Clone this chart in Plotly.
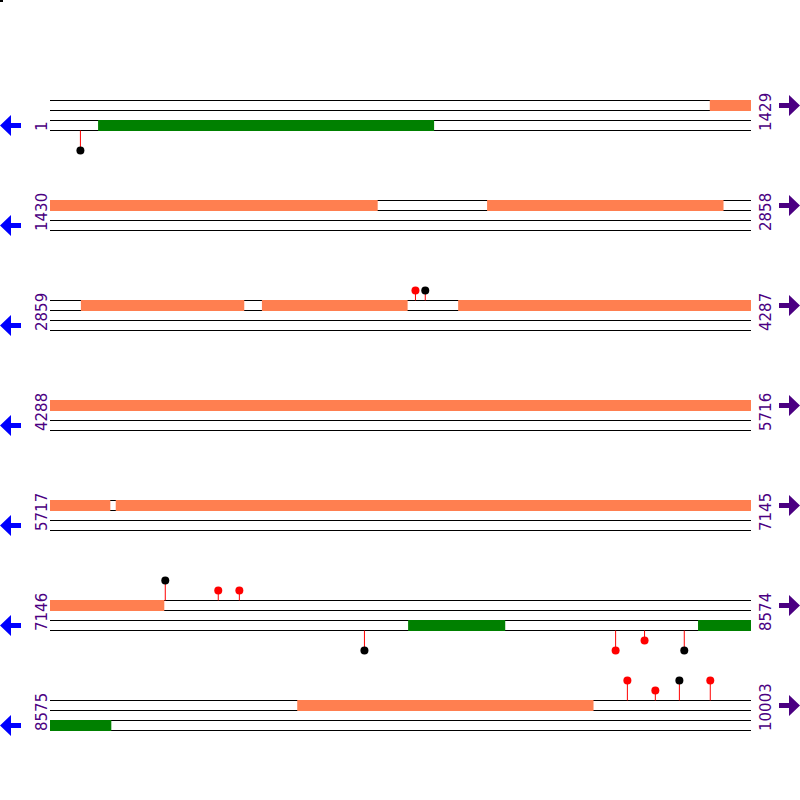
import plotly.graph_objects as go

# ---------------- data ----------------
ROW_STARTS = [1, 1430, 2859, 4288, 5717, 7146, 8575]
ROW_ENDS = [1429, 2858, 4287, 5716, 7145, 8574, 10003]

# forward-strand features (orange, upper track)
FWD_STARTS = [1346, 2321, 2922, 3291, 3691, 5851, 9079]
FWD_ENDS = [2097, 2802, 3254, 3587, 5839, 7378, 9682]

# reverse-strand features (green, lower track)
REV_STARTS = [99, 7876, 8467]
REV_ENDS = [783, 8073, 8699]

# lollipops above the upper track
UP_POS = [3603, 3623, 7380, 7488, 7531, 9751, 9808, 9857, 9920]
UP_COLOR = ["red", "black", "black", "red", "red", "red", "red", "black", "red"]
UP_LEVEL = [1, 1, 2, 1, 1, 2, 1, 2, 2]

# lollipops below the lower track
DOWN_POS = [62, 7786, 8298, 8357, 8438]
DOWN_COLOR = ["black", "black", "red", "red", "black"]
DOWN_LEVEL = [2, 2, 2, 1, 2]

# ---------------- styling / layout ----------------
W = H = 800
ORANGE = "#FF7F50"
GREEN = "#008000"
INDIGO = "#4B0082"
BLUE = "#0000FF"
ROW_PITCH = 100
ROW0_CENTER = 115
PLOT_LEFT, PLOT_RIGHT = 50, 751
TRACK_LINES = [1.5, 0.5, -0.5, -1.5]
Y_SHIFT = 0.05  # half-pixel shift for crisp 1px lines


def px(x):
    return x / W


def py(y):
    return 1 - y / H


fig = go.Figure()
layout = dict(
    width=W, height=H, margin=dict(l=0, r=0, t=0, b=0, autoexpand=False),
    paper_bgcolor="white", plot_bgcolor="white", showlegend=False,
)
shapes = []
annotations = []

for i, (rs, re_) in enumerate(zip(ROW_STARTS, ROW_ENDS)):
    n = "" if i == 0 else str(i + 1)
    xa, ya = "x" + n, "y" + n
    center = ROW0_CENTER + ROW_PITCH * i
    layout["xaxis" + n] = dict(domain=[px(PLOT_LEFT), px(PLOT_RIGHT)], range=[rs - 1, re_],
                               visible=False, fixedrange=True, anchor=ya)
    layout["yaxis" + n] = dict(domain=[py(center + 50), py(center - 50)],
                               range=[-5 + Y_SHIFT, 5 + Y_SHIFT],
                               visible=False, fixedrange=True, anchor=xa)

    # track lines
    lx, ly = [], []
    for yv in TRACK_LINES:
        lx += [rs - 1, re_, None]
        ly += [yv, yv, None]
    fig.add_trace(go.Scatter(x=lx, y=ly, mode="lines", line=dict(color="black", width=1),
                             xaxis=xa, yaxis=ya, hoverinfo="skip"))

    # feature boxes
    for starts, ends, color, y0, y1 in [(FWD_STARTS, FWD_ENDS, ORANGE, 0.45, 1.55),
                                         (REV_STARTS, REV_ENDS, GREEN, -1.55, -0.45)]:
        for s, e in zip(starts, ends):
            a = max(s - 1, rs - 1)
            b = min(e, re_)
            if a >= b:
                continue
            fig.add_trace(go.Scatter(x=[a, b, b, a, a], y=[y0, y0, y1, y1, y0], mode="lines",
                                     fill="toself", fillcolor=color, line=dict(width=0),
                                     xaxis=xa, yaxis=ya, hoverinfo="skip"))

    # lollipops
    for poss, cols, levels, base, sign in [(UP_POS, UP_COLOR, UP_LEVEL, 1.5, 1),
                                           (DOWN_POS, DOWN_COLOR, DOWN_LEVEL, -1.5, -1)]:
        sx, sy, hx, hy, hc = [], [], [], [], []
        for p, c, lv in zip(poss, cols, levels):
            if rs <= p <= re_:
                sx += [p, p, None]
                sy += [base, base + sign * lv, None]
                hx.append(p)
                hy.append(base + sign * lv)
                hc.append(c)
        if hx:
            fig.add_trace(go.Scatter(x=sx, y=sy, mode="lines", line=dict(color="red", width=1),
                                     xaxis=xa, yaxis=ya, hoverinfo="skip"))
            fig.add_trace(go.Scatter(x=hx, y=hy, mode="markers",
                                     marker=dict(color=hc, size=8, line=dict(width=0)),
                                     xaxis=xa, yaxis=ya, hoverinfo="skip"))

    # labels
    for lab, xp in [(str(rs), 42), (str(re_), 766)]:
        annotations.append(dict(text=lab, x=px(xp), y=py(center + 18), xref="paper", yref="paper",
                                xanchor="center", yanchor="bottom", textangle=-90, showarrow=False,
                                font=dict(family="DejaVu Sans", size=15, color=INDIGO)))

    # strand arrows
    cy = center + 10.5
    left = (f"M {px(0)} {py(cy)} L {px(11)} {py(cy - 10.5)} L {px(11)} {py(cy - 2.5)} "
            f"L {px(21)} {py(cy - 2.5)} L {px(21)} {py(cy + 2.5)} L {px(11)} {py(cy + 2.5)} "
            f"L {px(11)} {py(cy + 10.5)} Z")
    shapes.append(dict(type="path", path=left, xref="paper", yref="paper",
                       fillcolor=BLUE, line=dict(width=0)))
    cy = center - 9.5
    right = (f"M {px(800)} {py(cy)} L {px(789)} {py(cy - 10.5)} L {px(789)} {py(cy - 2.5)} "
             f"L {px(779)} {py(cy - 2.5)} L {px(779)} {py(cy + 2.5)} L {px(789)} {py(cy + 2.5)} "
             f"L {px(789)} {py(cy + 10.5)} Z")
    shapes.append(dict(type="path", path=right, xref="paper", yref="paper",
                       fillcolor=INDIGO, line=dict(width=0)))

# tiny corner mark seen in the original
shapes.append(dict(type="rect", x0=px(0), x1=px(3), y0=py(2), y1=py(0), xref="paper", yref="paper",
                   fillcolor="black", line=dict(width=0)))

layout["shapes"] = shapes
layout["annotations"] = annotations
fig.update_layout(**layout)
fig.write_html("out.html", config={"displayModeBar": False},
               post_script="document.body.style.margin='0';document.body.style.overflow='hidden';")
